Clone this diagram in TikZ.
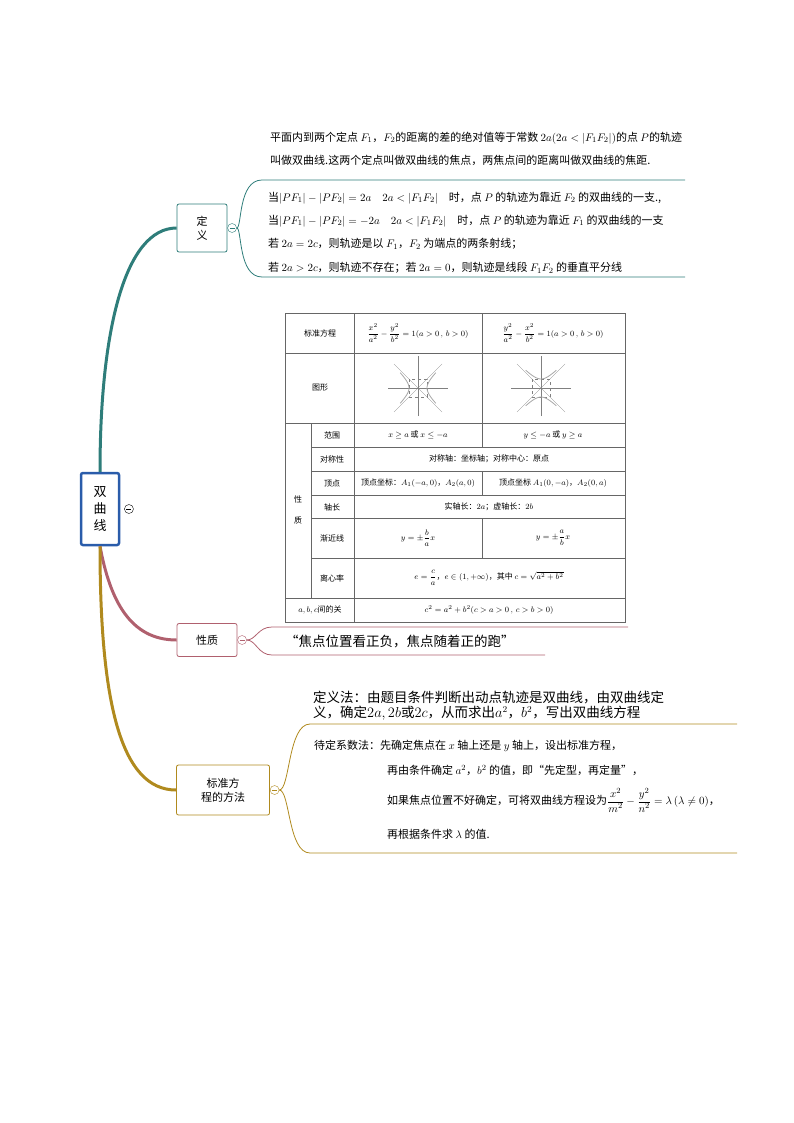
\documentclass[tikz,border=0pt]{standalone}
\usepackage{amsmath}
\usepackage{fontspec}
\setmainfont{Noto Sans CJK SC}
\usepackage{xcolor}
\definecolor{rootBlue}{HTML}{2A5CAA}
\definecolor{defTeal}{HTML}{2E7D7A}
\definecolor{propRed}{HTML}{B0606E}
\definecolor{methGold}{HTML}{B08A1E}
\usetikzlibrary{positioning, calc}

\begin{document}
\begin{tikzpicture}[
    x=1pt, y=-1pt,
    topicbox/.style={
        rectangle,
        draw=#1,
        thick,
        fill=white,
        rounded corners=2pt,
        align=center,
        inner sep=3pt,
        font=\fontsize{11}{14}\selectfont
    },
    foldmark/.style={
        circle,
        draw=#1,
        fill=white,
        inner sep=0pt,
        minimum size=9pt,
        path picture={\draw[#1] ($(path picture bounding box.west)+(2pt,0)$) -- ($(path picture bounding box.east)+(-2pt,0)$);}
    },
    lineText/.style={anchor=west, inner sep=0pt, font=\fontsize{11}{12}\selectfont},
    cell/.style={inner sep=0pt, font=\fontsize{8}{9}\selectfont, align=center}
]
\useasboundingbox (0,0) rectangle (794,1123);

% main topic and branches
\node[topicbox=rootBlue, line width=2.5pt, minimum width=38pt, minimum height=72pt,
      font=\fontsize{13}{17}\selectfont] (root) at (100,509) {双\\曲\\线};
\node[foldmark=black, right=4pt of root] (rootfold) {};

\node[topicbox=defTeal, minimum width=50pt, minimum height=48pt] (def) at (202,228) {定\\义};
\node[topicbox=propRed, minimum width=60pt, minimum height=33pt] (prop) at (207,640) {性质};
\node[topicbox=methGold, minimum width=93pt, minimum height=50pt] (meth) at (223,790) {标准方\\程的方法};

\draw[defTeal, line width=3pt] (root.north) .. controls (100,330) and (125,228) .. (def.west);
\draw[propRed, line width=3pt] (root.south) .. controls (110,600) and (130,640) .. (prop.west);
\draw[methGold, line width=3pt] (root.south) .. controls (100,700) and (120,790) .. (meth.west);

\node[foldmark=defTeal, right=0pt of def] (deffold) {};
\node[foldmark=propRed, right=0pt of prop] (propfold) {};
\node[foldmark=methGold, right=0pt of meth] (methfold) {};

% definition
\node[lineText] (d1) at (270,138) {平面内到两个定点 $F_1$，$F_2$的距离的差的绝对值等于常数 $2a(2a<|F_1F_2|)$的点 $P$的轨迹};
\node[lineText] (d2) at (270,160) {叫做双曲线.这两个定点叫做双曲线的焦点，两焦点间的距离叫做双曲线的焦距.};
\node[lineText] (d3) at (268,198) {当$|PF_1|-|PF_2|=2a\quad 2a<|F_1F_2|$\quad 时，点 $P$ 的轨迹为靠近 $F_2$ 的双曲线的一支.,};
\node[lineText] (d4) at (268,221) {当$|PF_1|-|PF_2|=-2a\quad 2a<|F_1F_2|$\quad 时，点 $P$ 的轨迹为靠近 $F_1$ 的双曲线的一支};
\node[lineText] (d5) at (268,244) {若 $2a=2c$，则轨迹是以 $F_1$，$F_2$ 为端点的两条射线；};
\node[lineText] (d6) at (268,268) {若 $2a>2c$，则轨迹不存在；若 $2a=0$，则轨迹是线段 $F_1F_2$ 的垂直平分线};
\draw[defTeal, thick] (deffold.east) .. controls (242,228) and (238,180) .. (262,180) -- (685,180);
\draw[defTeal, thick] (deffold.east) .. controls (242,228) and (238,277) .. (262,277) -- (685,277);

% properties table
\draw[black!60, thin] (285,313) rectangle (625,622);
\foreach \yy in {353,423,598} \draw[black!60, thin] (285,\yy) -- (625,\yy);
\foreach \yy in {447,471,495,518,558} \draw[black!60, thin] (311,\yy) -- (625,\yy);
\draw[black!60, thin] (311,423) -- (311,598);
\draw[black!60, thin] (354,313) -- (354,622);
\foreach \ya/\yb in {313/423, 423/447, 471/495, 518/558} \draw[black!60, thin] (482,\ya) -- (482,\yb);

\node[cell] (tStd) at (320,333) {标准方程};
\node[cell] (tStdA) at (418,333) {$\dfrac{x^2}{a^2}-\dfrac{y^2}{b^2}=1(a>0\,,\,b>0)$};
\node[cell] (tStdB) at (553,333) {$\dfrac{y^2}{a^2}-\dfrac{x^2}{b^2}=1(a>0\,,\,b>0)$};
\node[cell] (tFig) at (320,388) {图形};
\node[cell] (tXing) at (298,510) {性\\[12pt]质};
\node[cell] (tRange) at (332,435) {范围};
\node[cell] (tRangeA) at (418,435) {$x\geq a$ 或 $x\leq -a$};
\node[cell] (tRangeB) at (553,435) {$y\leq -a$ 或 $y\geq a$};
\node[cell] (tSym) at (332,459) {对称性};
\node[cell] (tSymV) at (489,459) {对称轴：坐标轴；对称中心：原点};
\node[cell] (tVtx) at (332,483) {顶点};
\node[cell] (tVtxA) at (418,483) {顶点坐标：$A_1(-a,0)$，$A_2(a,0)$};
\node[cell] (tVtxB) at (553,483) {顶点坐标 $A_1(0,-a)$，$A_2(0,a)$};
\node[cell] (tAxis) at (332,507) {轴长};
\node[cell] (tAxisV) at (489,507) {实轴长：$2a$；虚轴长：$2b$};
\node[cell] (tAsy) at (332,538) {渐近线};
\node[cell] (tAsyA) at (418,538) {$y=\pm\dfrac{b}{a}x$};
\node[cell] (tAsyB) at (553,538) {$y=\pm\dfrac{a}{b}x$};
\node[cell] (tEcc) at (332,578) {离心率};
\node[cell] (tEccV) at (489,578) {$e=\dfrac{c}{a}$，$e\in(1,+\infty)$，其中 $c=\sqrt{a^2+b^2}$};
\node[cell] (tRel) at (320,610) {$a,b,c$间的关};
\node[cell] (tRelV) at (489,610) {$c^2=a^2+b^2(c>a>0\,,\,c>b>0)$};

% small graphs
\begin{scope}[shift={(418,388)}, gray]
  \draw[thin] (-30,0) -- (30,0); \draw[thin] (0,28) -- (0,-32);
  \draw[very thin] (-24,-24) -- (24,24); \draw[very thin] (-24,24) -- (24,-24);
  \draw[very thin, dashed] (-9,-9) rectangle (9,9);
  \draw[thick, gray!70] plot[domain=-1.3:1.3, smooth] ({9*cosh(\x)},{9*sinh(\x)});
  \draw[thick, gray!70] plot[domain=-1.3:1.3, smooth] ({-9*cosh(\x)},{9*sinh(\x)});
\end{scope}
\begin{scope}[shift={(541,388)}, gray]
  \draw[thin] (-30,0) -- (30,0); \draw[thin] (0,28) -- (0,-32);
  \draw[very thin] (-24,-24) -- (24,24); \draw[very thin] (-24,24) -- (24,-24);
  \draw[very thin, dashed] (-9,-9) rectangle (9,9);
  \draw[thick, gray!70] plot[domain=-1.3:1.3, smooth] ({9*sinh(\x)},{9*cosh(\x)});
  \draw[thick, gray!70] plot[domain=-1.3:1.3, smooth] ({9*sinh(\x)},{-9*cosh(\x)});
\end{scope}

% property memo
\node[anchor=west, inner sep=0pt, font=\fontsize{13.5}{15}\selectfont] (memo) at (285,641) {“焦点位置看正负，焦点随着正的跑”};
\draw[propRed, thick] (propfold.east) .. controls (256,640) and (258,627) .. (272,627) -- (628,627);
\draw[propRed, thick] (propfold.east) .. controls (256,640) and (258,655) .. (272,655) -- (545,655);

% methods
\node[anchor=west, inner sep=0pt, font=\fontsize{13.5}{15}\selectfont, align=left] (m1) at (313,706)
  {定义法：由题目条件判断出动点轨迹是双曲线，由双曲线定\\义，确定$2a,2b$或$2c$，从而求出$a^2$，$b^2$，写出双曲线方程};
\node[lineText] (m2) at (314,746) {待定系数法：先确定焦点在 $x$ 轴上还是 $y$ 轴上，设出标准方程，};
\node[lineText] (m3) at (387,770) {再由条件确定 $a^2$，$b^2$ 的值，即“先定型，再定量”，};
\node[lineText] (m4) at (387,800) {如果焦点位置不好确定，可将双曲线方程设为$\dfrac{x^2}{m^2}-\dfrac{y^2}{n^2}=\lambda\,(\lambda\neq0)$，};
\node[lineText] (m5) at (387,834) {再根据条件求 $\lambda$ 的值.};
\draw[methGold, thick] (methfold.east) .. controls (290,790) and (288,724) .. (310,724) -- (737,724);
\draw[methGold, thick] (methfold.east) .. controls (290,790) and (288,853) .. (310,853) -- (737,853);
\end{tikzpicture}
\end{document}
